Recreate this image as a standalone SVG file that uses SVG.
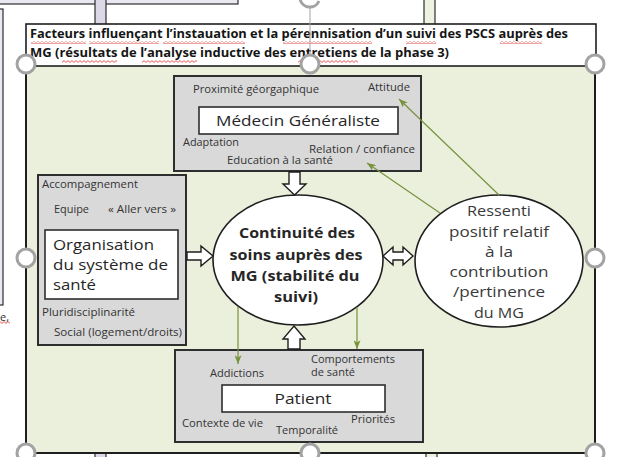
<svg xmlns="http://www.w3.org/2000/svg" width="617" height="457" viewBox="0 0 617 457">
  <style>
    text { font-family: "Open Sans", "Liberation Sans", sans-serif; }
    .title { font-size: 12px; font-weight: bold; fill: #151515; }
    .small { font-size: 10px; fill: #333333; }
    .label { font-size: 15px; fill: #262626; }
    .core { font-size: 14.5px; font-weight: bold; fill: #262626; }
    .soft { font-size: 14.5px; fill: #3a3a3a; }
    .grey-box { fill: #d9d9d9; stroke: #2e2e2e; stroke-width: 2; }
    .white-box { fill: #ffffff; stroke: #2e2e2e; stroke-width: 1.6; }
    .oval { fill: #ffffff; stroke: #1e1e1e; stroke-width: 1.6; }
    .block { fill: #ffffff; stroke: #1e1e1e; stroke-width: 1.4; stroke-linejoin: miter; }
    .link { fill: none; stroke: #77933c; stroke-width: 1.2; marker-end: url(#head); }
    .handle { fill: #ffffff; stroke: #a3a3a3; stroke-width: 3; }
    .bar { stroke: #2e2e2e; stroke-width: 1.2; }
    .wavy { fill: url(#squiggle); }
  </style>
  <defs>
    <marker id="head" viewBox="0 0 10 8" refX="10" refY="4" markerWidth="9" markerHeight="7" markerUnits="userSpaceOnUse" orient="auto">
      <path d="M0,0 L10,4 L0,8 L2.5,4 z" fill="#77933c"/>
    </marker>
    <pattern id="squiggle" width="4" height="3" patternUnits="userSpaceOnUse">
      <path d="M0,0.6 L2,2.4 L4,0.6" fill="none" stroke="#e0302a" stroke-width="0.8"/>
    </pattern>
  </defs>

  <!-- page background -->
  <rect x="0" y="0" width="617" height="457" fill="#ffffff"/>

  <!-- neighbouring shapes on the page -->
  <g id="page-context">
    <rect x="-2" y="-2" width="240" height="6" fill="#ece8f2" stroke="#2e2e2e" stroke-width="1.2"/>
    <rect x="-2" y="9" width="5" height="296" fill="#ece8f2" stroke="#2e2e2e" stroke-width="1.2"/>
    <rect class="bar" x="95" y="-2" width="11" height="27" fill="#ddd8e8"/>
    <rect class="bar" x="424" y="-2" width="11" height="27" fill="#eef2e0"/>
    <rect class="bar" x="95" y="452" width="11" height="8" fill="#ddd8e8"/>
    <rect class="bar" x="426" y="452" width="11" height="8" fill="#eef2e0"/>
    <text x="0" y="321" font-size="11" fill="#333">e,</text>
    <rect class="wavy" x="0" y="321" width="10" height="3"/>
  </g>

  <!-- frame holding the whole figure -->
  <g id="frame">
    <rect x="26" y="63" width="569" height="390" fill="#ebf0dd" stroke="#1e1e1e" stroke-width="2"/>
  </g>

  <!-- caption -->
  <g id="caption">
    <rect x="26" y="24" width="570" height="42" fill="#ffffff" stroke="#1e1e1e" stroke-width="1.6"/>
    <text class="title" x="30" y="38" textLength="538" lengthAdjust="spacingAndGlyphs">Facteurs influençant l’instauation et la pérennisation d’un suivi des PSCS auprès des</text>
    <text class="title" x="30" y="57" textLength="419" lengthAdjust="spacingAndGlyphs">MG (résultats de l’analyse inductive des entretiens de la phase 3)</text>
    <rect class="wavy" x="31" y="41" width="55" height="3"/>
    <rect class="wavy" x="89" y="41" width="70" height="3"/>
    <rect class="wavy" x="163" y="41" width="82" height="3"/>
    <rect class="wavy" x="283" y="41" width="89" height="3"/>
    <rect class="wavy" x="406" y="41" width="30" height="3"/>
    <rect class="wavy" x="500" y="41" width="42" height="3"/>
    <rect class="wavy" x="62" y="60" width="55" height="3"/>
    <rect class="wavy" x="142" y="60" width="55" height="3"/>
    <rect class="wavy" x="298" y="60" width="60" height="3"/>
  </g>

  <!-- general practitioner -->
  <g id="medecin">
    <rect class="grey-box" x="174" y="76" width="247" height="95"/>
    <text class="small" x="193" y="93" textLength="126" lengthAdjust="spacingAndGlyphs">Proximité géorgaphique</text>
    <text class="small" x="368" y="91" textLength="42" lengthAdjust="spacingAndGlyphs">Attitude</text>
    <rect class="white-box" x="199" y="107" width="199" height="27"/>
    <text class="label" x="298" y="126" text-anchor="middle" textLength="164" lengthAdjust="spacingAndGlyphs">Médecin Généraliste</text>
    <text class="small" x="183" y="146" textLength="56" lengthAdjust="spacingAndGlyphs">Adaptation</text>
    <text class="small" x="309" y="153" textLength="106" lengthAdjust="spacingAndGlyphs">Relation / confiance</text>
    <text class="small" x="227" y="164" textLength="106" lengthAdjust="spacingAndGlyphs">Education à la santé</text>
  </g>

  <!-- health system organisation -->
  <g id="organisation">
    <rect class="grey-box" x="38" y="175" width="148" height="170"/>
    <text class="small" x="42" y="188" textLength="96" lengthAdjust="spacingAndGlyphs">Accompagnement</text>
    <text class="small" x="54" y="213" textLength="35" lengthAdjust="spacingAndGlyphs">Equipe</text>
    <text class="small" x="108" y="213" textLength="68" lengthAdjust="spacingAndGlyphs">« Aller vers »</text>
    <rect class="white-box" x="45" y="230" width="133" height="69"/>
    <text class="label" x="53" y="250" textLength="101" lengthAdjust="spacingAndGlyphs">Organisation</text>
    <text class="label" x="53" y="270" textLength="115" lengthAdjust="spacingAndGlyphs">du système de</text>
    <text class="label" x="53" y="290" textLength="43" lengthAdjust="spacingAndGlyphs">santé</text>
    <text class="small" x="42" y="316" textLength="93" lengthAdjust="spacingAndGlyphs">Pluridisciplinarité</text>
    <text class="small" x="54" y="336" textLength="128" lengthAdjust="spacingAndGlyphs">Social (logement/droits)</text>
  </g>

  <!-- continuity of care -->
  <g id="continuite">
    <ellipse class="oval" cx="298" cy="260" rx="85" ry="65"/>
    <text class="core" x="297" y="238" text-anchor="middle" textLength="116" lengthAdjust="spacingAndGlyphs">Continuité des</text>
    <text class="core" x="296" y="260" text-anchor="middle" textLength="133" lengthAdjust="spacingAndGlyphs">soins auprès des</text>
    <text class="core" x="295" y="281" text-anchor="middle" textLength="129" lengthAdjust="spacingAndGlyphs">MG (stabilité du</text>
    <text class="core" x="296" y="302" text-anchor="middle" textLength="44" lengthAdjust="spacingAndGlyphs">suivi)</text>
  </g>

  <!-- perceived contribution of the GP -->
  <g id="ressenti">
    <ellipse class="oval" cx="499" cy="261" rx="84" ry="66"/>
    <text class="soft" x="499" y="216" text-anchor="middle" textLength="64" lengthAdjust="spacingAndGlyphs">Ressenti</text>
    <text class="soft" x="499" y="237" text-anchor="middle" textLength="100" lengthAdjust="spacingAndGlyphs">positif relatif</text>
    <text class="soft" x="499" y="257" text-anchor="middle" textLength="28" lengthAdjust="spacingAndGlyphs">à la</text>
    <text class="soft" x="499" y="277" text-anchor="middle" textLength="99" lengthAdjust="spacingAndGlyphs">contribution</text>
    <text class="soft" x="499" y="297" text-anchor="middle" textLength="92" lengthAdjust="spacingAndGlyphs">/pertinence</text>
    <text class="soft" x="499" y="318" text-anchor="middle" textLength="50" lengthAdjust="spacingAndGlyphs">du MG</text>
  </g>

  <!-- patient -->
  <g id="patient">
    <rect class="grey-box" x="175" y="350" width="248" height="92"/>
    <text class="small" x="210" y="377" textLength="54" lengthAdjust="spacingAndGlyphs">Addictions</text>
    <text class="small" x="311" y="363" textLength="84" lengthAdjust="spacingAndGlyphs">Comportements</text>
    <text class="small" x="311" y="376" textLength="44" lengthAdjust="spacingAndGlyphs">de santé</text>
    <rect class="white-box" x="222" y="385" width="163" height="27"/>
    <text class="label" x="303" y="404" text-anchor="middle" textLength="57" lengthAdjust="spacingAndGlyphs">Patient</text>
    <text class="small" x="182" y="427" textLength="81" lengthAdjust="spacingAndGlyphs">Contexte de vie</text>
    <text class="small" x="351" y="423" textLength="44" lengthAdjust="spacingAndGlyphs">Priorités</text>
    <text class="small" x="276" y="434" textLength="62" lengthAdjust="spacingAndGlyphs">Temporalité</text>
  </g>

  <!-- connectors -->
  <g id="connectors">
    <polygon class="block" points="289,172 300,172 300,184 306,184 294.5,195 283,184 289,184"/>
    <polygon class="block" points="187,252 201,252 201,246 213,256 201,266 201,260 187,260"/>
    <polygon class="block" points="383,256 393,247 393,252 403,252 403,247 413,256 403,265 403,260 393,260 393,265"/>
    <polygon class="block" points="294,326 305,339 300,339 300,349 288,349 288,339 283,339"/>
    <line class="link" x1="440" y1="213" x2="367" y2="163"/>
    <line class="link" x1="499" y1="195" x2="399" y2="99"/>
    <line class="link" x1="238" y1="307" x2="238" y2="364"/>
    <line class="link" x1="357" y1="307" x2="357" y2="349"/>
  </g>

  <!-- selection handles round the frame, with the rotation grip on top -->
  <g id="selection-handles">
    <line x1="310" y1="6" x2="310" y2="55" stroke="#a3a3a3" stroke-width="1"/>
    <path d="M300,-1 A10,10 0 0 0 319,1" fill="none" stroke="#a3a3a3" stroke-width="3"/>
    <circle class="handle" cx="26" cy="64" r="9"/>
    <circle class="handle" cx="310" cy="64" r="9"/>
    <circle class="handle" cx="595" cy="64" r="9"/>
    <circle class="handle" cx="26" cy="258" r="9"/>
    <circle class="handle" cx="595" cy="258" r="9"/>
    <circle class="handle" cx="26" cy="453" r="9"/>
    <circle class="handle" cx="310" cy="453" r="9"/>
    <circle class="handle" cx="595" cy="453" r="9"/>
  </g>
</svg>
